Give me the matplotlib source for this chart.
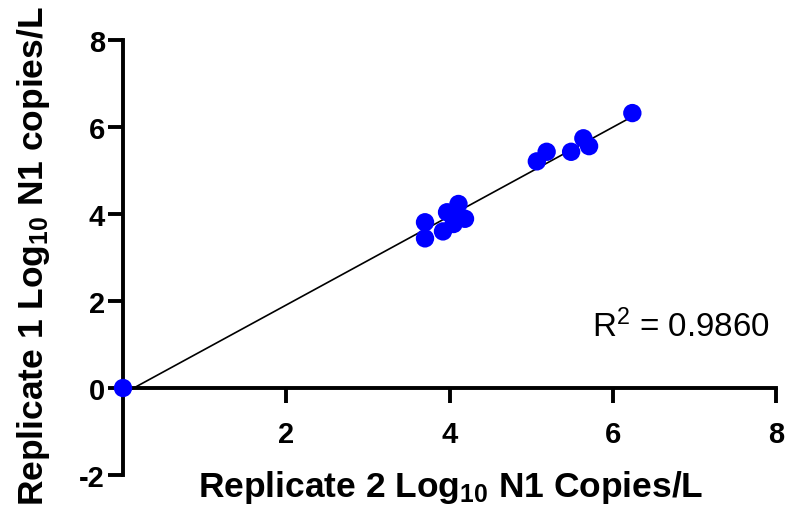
import numpy as np
import matplotlib
matplotlib.use("Agg")
import matplotlib.pyplot as plt

plt.rcParams['font.family'] = ['Liberation Sans', 'DejaVu Sans']
plt.rcParams['mathtext.fontset'] = 'custom'
plt.rcParams['mathtext.rm'] = 'Liberation Sans'
plt.rcParams['mathtext.bf'] = 'Liberation Sans:bold'
plt.rcParams['mathtext.it'] = 'Liberation Sans:italic'

# Data (Replicate 2 on x, Replicate 1 on y), log10 N1 copies/L
rep2 = [0.00, 3.70, 3.70, 3.92, 3.97, 4.05, 4.09, 4.11, 4.19,
        5.07, 5.19, 5.49, 5.64, 5.71, 6.24]
rep1 = [0.00, 3.81, 3.44, 3.60, 4.04, 3.77, 3.98, 4.23, 3.89,
        5.21, 5.43, 5.43, 5.74, 5.56, 6.32]
r2_text = r'R$^2$ = 0.9860'
xticks = [2, 4, 6, 8]
yticks = [-2, 0, 2, 4, 6, 8]

x = np.array(rep2)
y = np.array(rep1)
slope, intercept = np.polyfit(x, y, 1)
xf = np.array([x.min(), x.max()])
yf = slope * xf + intercept

fig = plt.figure(figsize=(7.86, 5.10), dpi=100)
ax = fig.add_axes([123/786, 34/510, 653/786, 435/510])

ax.plot(xf, yf, color='black', lw=1.2, zorder=2, clip_on=False)
ax.scatter(x, y, s=175, color='#0000FF', edgecolors='none', zorder=3, clip_on=False)

ax.set_xlim(0, 8)
ax.set_ylim(-2, 8)
ax.spines['top'].set_visible(False)
ax.spines['right'].set_visible(False)
ax.spines['left'].set_position(('data', 0))
ax.spines['bottom'].set_position(('data', 0))
for s in ('left', 'bottom'):
    ax.spines[s].set_linewidth(2.8)
    ax.spines[s].set_capstyle('projecting')
ax.set_xticks(xticks)
ax.set_yticks(yticks)
ax.set_xticklabels([str(v) for v in xticks], fontweight='bold', fontsize=21)
ax.set_yticklabels([str(v) for v in yticks], fontweight='bold', fontsize=21)
ax.tick_params(axis='both', direction='out', length=11, width=2.8)
ax.tick_params(axis='y', pad=2)
ax.tick_params(axis='x', pad=12)

fig.text(451/786, 1 - 497/510, r'Replicate 2 Log$_{\mathbf{10}}$ N1 Copies/L',
         ha='center', va='baseline', fontsize=25.5, fontweight='bold')
fig.text(43/786, 1 - 256/510, r'Replicate 1 Log$_{\mathbf{10}}$ N1 copies/L',
         ha='center', va='baseline', rotation=90, rotation_mode='anchor',
         fontsize=25.5, fontweight='bold')
fig.text(770/786, 1 - 337/510, r2_text, ha='right', va='baseline', fontsize=23.9)

fig.savefig('out.png', dpi=100)
